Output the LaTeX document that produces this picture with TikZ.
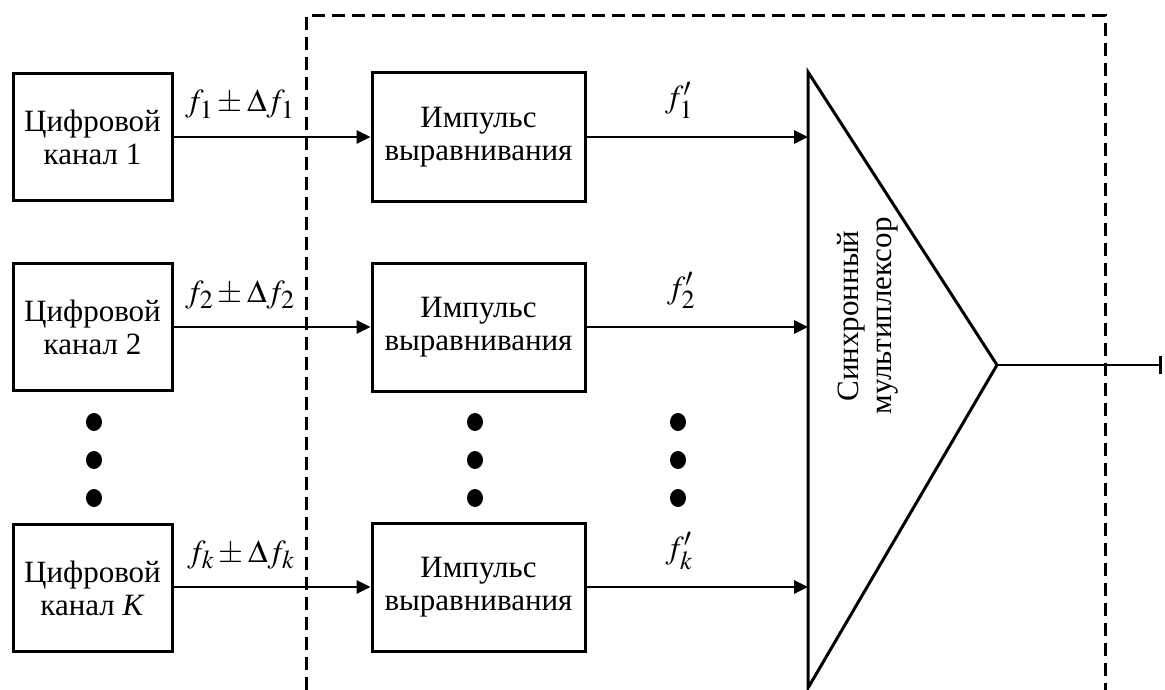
\documentclass[tikz,border=0pt]{standalone}
\usepackage{mathptmx}
\usepackage[no-math]{fontspec}
\setmainfont{Liberation Serif}
\DeclareMathSizes{31}{32}{26}{20}
\usetikzlibrary{arrows.meta}
\begin{document}
\begin{tikzpicture}[x=1pt,y=-1pt,
  font=\fontsize{31}{33}\selectfont,
  line width=3pt,
  chanbox/.style={draw, minimum width=159pt, minimum height=127pt, align=center, inner sep=0pt},
  padbox/.style={draw, minimum width=213pt, minimum height=128pt, align=center, inner sep=0pt},
  sig/.style={line width=2.6pt, -{Triangle[length=14pt,width=13pt]}},
  frame/.style={dash pattern=on 13pt off 7pt, line width=3pt},
  dot/.style={fill=black},
  lbl/.style={anchor=base, inner sep=0pt}
]
\useasboundingbox (0,0) rectangle (1165,690);

% dashed frame
\draw[frame] (306,690) -- (306,16) -- (1105,16) -- (1105,690);

% left channel boxes
\node[chanbox] (c1) at (92.5,137) {Цифровой\\канал 1};
\node[chanbox] (c2) at (92.5,327) {Цифровой\\канал 2};
\node[chanbox] (ck) at (92.5,588) {Цифровой\\канал \textit{K}};

% middle boxes
\node[padbox] (p1) at (478.5,137) {Импульс\\выравнивания};
\node[padbox] (p2) at (478.5,327) {Импульс\\выравнивания};
\node[padbox] (pk) at (478.5,587) {Импульс\\выравнивания};

% multiplexer triangle
\coordinate (mt) at (808,72);
\coordinate (mb) at (808,688);
\coordinate (ma) at (997,365);
\draw[line join=miter] (mt) -- (ma) -- (mb) -- cycle;
\node[rotate=90, align=center, inner sep=0pt] (mux) at (868,316) {Синхронный\\мультиплексор};
\coordinate (m1) at (808,137);
\coordinate (m2) at (808,327);
\coordinate (mk) at (808,587);
\coordinate (out) at (1162,365);

% connectors
\draw[sig] (c1.east) -- (p1.west);
\draw[sig] (c2.east) -- (p2.west);
\draw[sig] (ck.east |- pk.west) -- (pk.west);
\draw[sig] (p1.east) -- (m1);
\draw[sig] (p2.east) -- (m2);
\draw[sig] (pk.east) -- (mk);
\draw[line width=2.6pt, -{Bar[width=18pt,line width=2.6pt]}] (ma) -- (out);

% labels
\node[lbl] (l1) at (240,112) {$f_1 \pm \Delta f_1$};
\node[lbl] (l2) at (240,302) {$f_2 \pm \Delta f_2$};
\node[lbl] (lk) at (241,562) {$f_k \pm \Delta f_k$};
\node[lbl] (q1) at (679,108) {$f_1'$};
\node[lbl] (q2) at (681,298) {$f_2'$};
\node[lbl] (qk) at (679,558) {$f_k'$};

% dots
\foreach \x in {94,475,678}{
  \foreach \y in {422,460,498}{
    \fill[dot] (\x,\y) ellipse [x radius=8pt, y radius=9pt];
  }
}
\end{tikzpicture}
\end{document}
